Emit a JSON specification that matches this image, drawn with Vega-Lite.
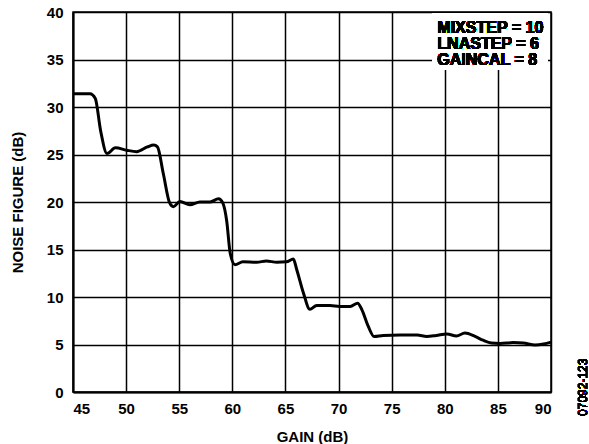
{
  "$schema": "https://vega.github.io/schema/vega-lite/v6.json",
  "width": 478,
  "height": 380,
  "autosize": {"type": "none"},
  "padding": {"left": 73, "top": 12, "right": 38, "bottom": 52},
  "background": "white",
  "config": {
    "view": {"stroke": "black", "strokeWidth": 1.5},
    "axis": {
      "labelFont": "Liberation Sans",
      "labelFontWeight": "bold",
      "labelFontSize": 15,
      "labelColor": "black",
      "titleFont": "Liberation Sans",
      "titleFontWeight": "bold",
      "titleFontSize": 15,
      "titleColor": "black",
      "ticks": false,
      "grid": true,
      "gridColor": "black",
      "gridWidth": 1.5,
      "gridOpacity": 1,
      "domainColor": "black",
      "domainWidth": 2
    },
    "text": {"font": "Liberation Sans", "fontWeight": "bold", "fontSize": 16, "fill": "black", "align": "left", "baseline": "alphabetic"}
  },
  "data": {
    "values": [
      {"gain": 45.0, "nf": 31.4},
      {"gain": 46.0, "nf": 31.4},
      {"gain": 46.6, "nf": 31.4},
      {"gain": 47.1, "nf": 30.9},
      {"gain": 47.6, "nf": 27.5},
      {"gain": 48.2, "nf": 25.1},
      {"gain": 49.0, "nf": 25.7},
      {"gain": 50.05, "nf": 25.45},
      {"gain": 51.0, "nf": 25.3},
      {"gain": 52.0, "nf": 25.8},
      {"gain": 52.6, "nf": 26.0},
      {"gain": 52.95, "nf": 25.8},
      {"gain": 53.5, "nf": 23.0},
      {"gain": 54.1, "nf": 19.9},
      {"gain": 54.45, "nf": 19.5},
      {"gain": 55.07, "nf": 20.05},
      {"gain": 56.0, "nf": 19.7},
      {"gain": 56.95, "nf": 20.0},
      {"gain": 57.9, "nf": 20.0},
      {"gain": 58.7, "nf": 20.35},
      {"gain": 59.1, "nf": 19.9},
      {"gain": 59.47, "nf": 18.0},
      {"gain": 59.8, "nf": 14.6},
      {"gain": 60.25, "nf": 13.4},
      {"gain": 61.0, "nf": 13.7},
      {"gain": 62.3, "nf": 13.65},
      {"gain": 63.2, "nf": 13.8},
      {"gain": 64.2, "nf": 13.65},
      {"gain": 65.1, "nf": 13.7},
      {"gain": 65.74, "nf": 14.0},
      {"gain": 66.06, "nf": 12.9},
      {"gain": 66.7, "nf": 10.4},
      {"gain": 67.3, "nf": 8.7},
      {"gain": 67.94, "nf": 9.1},
      {"gain": 69.2, "nf": 9.1},
      {"gain": 70.1, "nf": 9.0},
      {"gain": 71.1, "nf": 9.0},
      {"gain": 71.8, "nf": 9.35},
      {"gain": 72.2, "nf": 8.65},
      {"gain": 72.8, "nf": 6.9},
      {"gain": 73.34, "nf": 5.85},
      {"gain": 74.2, "nf": 5.95},
      {"gain": 75.8, "nf": 6.0},
      {"gain": 77.4, "nf": 6.0},
      {"gain": 78.3, "nf": 5.85},
      {"gain": 79.2, "nf": 5.95},
      {"gain": 80.2, "nf": 6.1},
      {"gain": 81.1, "nf": 5.9},
      {"gain": 81.9, "nf": 6.2},
      {"gain": 82.85, "nf": 5.85},
      {"gain": 83.6, "nf": 5.45},
      {"gain": 84.4, "nf": 5.15},
      {"gain": 85.2, "nf": 5.1},
      {"gain": 86.45, "nf": 5.2},
      {"gain": 87.4, "nf": 5.15},
      {"gain": 88.5, "nf": 4.95},
      {"gain": 89.3, "nf": 5.05},
      {"gain": 90.0, "nf": 5.25}
    ]
  },
  "layer": [
    {
      "mark": {"type": "line", "color": "black", "strokeWidth": 3, "interpolate": "monotone"},
      "encoding": {
        "x": {
          "field": "gain", "type": "quantitative",
          "scale": {"domain": [45, 90], "nice": false, "zero": false},
          "axis": {"title": "GAIN (dB)", "values": [45, 50, 55, 60, 65, 70, 75, 80, 85, 90], "labelPadding": 9, "titlePadding": 13}
        },
        "y": {
          "field": "nf", "type": "quantitative",
          "scale": {"domain": [0, 40], "nice": false},
          "axis": {"title": "NOISE FIGURE (dB)", "values": [0, 5, 10, 15, 20, 25, 30, 35, 40], "labelPadding": 10, "titlePadding": 21}
        }
      }
    },
    {
      "mark": {"type": "rect", "fill": "white", "stroke": null},
      "encoding": {
        "x": {"datum": 78.8, "type": "quantitative"},
        "x2": {"datum": 89.7},
        "y": {"datum": 33.9, "type": "quantitative"},
        "y2": {"datum": 39.85}
      }
    },
    {
      "mark": {"type": "text"},
      "encoding": {
        "x": {"datum": 79.3, "type": "quantitative"},
        "y": {"datum": 37.82, "type": "quantitative"},
        "text": {"value": "MIXSTEP = 10"}
      }
    },
    {
      "mark": {"type": "text"},
      "encoding": {
        "x": {"datum": 79.3, "type": "quantitative"},
        "y": {"datum": 36.14, "type": "quantitative"},
        "text": {"value": "LNASTEP = 6"}
      }
    },
    {
      "mark": {"type": "text"},
      "encoding": {
        "x": {"datum": 79.3, "type": "quantitative"},
        "y": {"datum": 34.4, "type": "quantitative"},
        "text": {"value": "GAINCAL = 8"}
      }
    },
    {
      "mark": {"type": "text", "angle": 270, "align": "center", "baseline": "middle", "fontWeight": "normal", "fontSize": 12, "clip": false},
      "encoding": {
        "x": {"datum": 93.0, "type": "quantitative"},
        "y": {"datum": 0.5, "type": "quantitative"},
        "text": {"value": "07092-123"}
      }
    }
  ]
}
